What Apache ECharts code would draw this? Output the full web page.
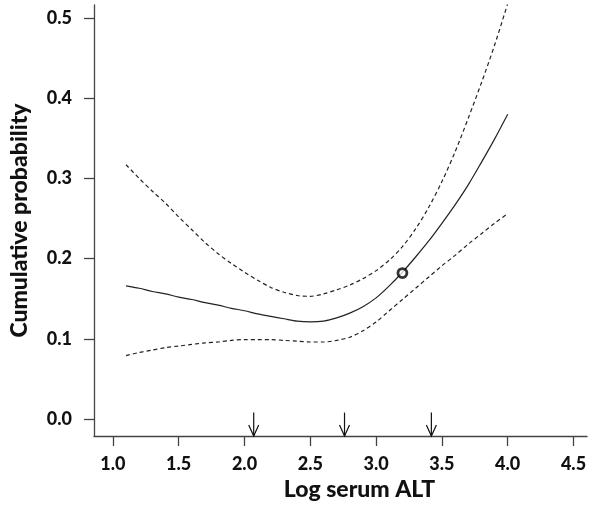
<!DOCTYPE html>
<html>
<head>
<meta charset="utf-8">
<script src="https://cdn.jsdelivr.net/npm/echarts@6.0.0/dist/echarts.min.js"></script>
<style>
  html, body { margin: 0; padding: 0; background: #fff; }
  #main { width: 602px; height: 510px; }
</style>
</head>
<body>
<div id="main"></div>
<script>
// log serum ALT grid for the fitted curve and its confidence band
var altX = [1.1, 1.2, 1.3, 1.4, 1.5, 1.6, 1.7, 1.8, 1.9, 2.0,
            2.1, 2.2, 2.3, 2.4, 2.5, 2.6, 2.7, 2.8, 2.9, 3.0,
            3.1, 3.2, 3.3, 3.4, 3.5, 3.6, 3.7, 3.8, 3.9, 4.0];
var fitY = [0.166, 0.163, 0.159, 0.156, 0.152, 0.149, 0.145, 0.142, 0.138, 0.135,
            0.131, 0.128, 0.125, 0.122, 0.121, 0.122, 0.126, 0.132, 0.140, 0.151,
            0.166, 0.183, 0.202, 0.222, 0.244, 0.267, 0.292, 0.320, 0.349, 0.380];
var upperY = [0.317, 0.300, 0.284, 0.269, 0.252, 0.236, 0.220, 0.206, 0.194, 0.183,
              0.173, 0.164, 0.158, 0.154, 0.153, 0.156, 0.161, 0.167, 0.175, 0.185,
              0.198, 0.215, 0.237, 0.264, 0.296, 0.333, 0.375, 0.419, 0.466, 0.518];
var lowerY = [0.079, 0.083, 0.086, 0.089, 0.091, 0.093, 0.095, 0.096, 0.098, 0.099,
              0.099, 0.099, 0.098, 0.097, 0.096, 0.096, 0.098, 0.102, 0.110, 0.121,
              0.135, 0.149, 0.163, 0.177, 0.191, 0.204, 0.218, 0.231, 0.244, 0.256];
// highlighted point and arrows on the x axis
var pointX = [3.20];
var pointY = [0.182];
var arrowX = [2.07, 2.76, 3.42];
var xTicks = [1.0, 1.5, 2.0, 2.5, 3.0, 3.5, 4.0, 4.5];
var yTicks = [0.0, 0.1, 0.2, 0.3, 0.4, 0.5];

var X_MIN = 0.8565, X_MAX = 4.6025;
var Y_MIN = -0.0212, Y_MAX = 0.5162;
var ARROW_TOP = 0.008;

var FONT = 'Lato';
var INK = '#111';
var AXIS = '#444';

function pairs(xs, ys) {
  return xs.map(function (x, i) { return [x, ys[i]]; });
}

var chart = echarts.init(document.getElementById('main'));

chart.setOption({
  animation: false,
  backgroundColor: '#fff',
  grid: { left: 91, right: 15, top: 5, bottom: 74 },
  xAxis: {
    type: 'value',
    min: X_MIN,
    max: X_MAX,
    name: 'Log serum ALT',
    nameLocation: 'middle',
    nameGap: 39,
    nameTextStyle: {
      fontFamily: FONT, fontWeight: 900, fontSize: 23, color: INK,
      padding: [0, 0, 0, 38]
    },
    axisLine: { onZero: false, lineStyle: { color: AXIS, width: 1.3 } },
    axisTick: { customValues: xTicks, length: 10, lineStyle: { color: AXIS, width: 1.3 } },
    axisLabel: {
      customValues: xTicks,
      margin: 19,
      fontFamily: FONT, fontWeight: 900, fontSize: 18, color: INK,
      formatter: function (v) { return v.toFixed(1); }
    },
    splitLine: { show: false }
  },
  yAxis: {
    type: 'value',
    min: Y_MIN,
    max: Y_MAX,
    name: 'Cumulative probability',
    nameLocation: 'middle',
    nameGap: 63,
    nameTextStyle: { fontFamily: FONT, fontWeight: 900, fontSize: 23, color: INK },
    axisLine: { onZero: false, lineStyle: { color: AXIS, width: 1.3 } },
    axisTick: { customValues: yTicks, length: 10, lineStyle: { color: AXIS, width: 1.3 } },
    axisLabel: {
      customValues: yTicks,
      margin: 22,
      fontFamily: FONT, fontWeight: 900, fontSize: 18, color: INK,
      formatter: function (v) { return v.toFixed(1); }
    },
    splitLine: { show: false }
  },
  series: [
    {
      name: 'upper',
      type: 'line',
      data: pairs(altX, upperY),
      smooth: 0.3,
      showSymbol: false,
      lineStyle: { color: '#222', width: 1.2, type: [4, 3] }
    },
    {
      name: 'fit',
      type: 'line',
      data: pairs(altX, fitY),
      smooth: 0.3,
      showSymbol: false,
      lineStyle: { color: '#222', width: 1.2 }
    },
    {
      name: 'lower',
      type: 'line',
      data: pairs(altX, lowerY),
      smooth: 0.3,
      showSymbol: false,
      lineStyle: { color: '#222', width: 1.2, type: [4, 3] }
    },
    {
      name: 'point',
      type: 'scatter',
      data: pairs(pointX, pointY),
      symbol: 'circle',
      symbolSize: 9,
      itemStyle: { color: '#fff', borderColor: '#000', borderWidth: 2.8 },
      z: 5
    },
    {
      name: 'arrows',
      type: 'custom',
      data: arrowX.map(function (x) { return [x]; }),
      encode: { x: 0 },
      renderItem: function (params, api) {
        var x = api.value(0);
        var top = api.coord([x, ARROW_TOP]);
        var tip = api.coord([x, Y_MIN]);
        return {
          type: 'group',
          children: [
            {
              type: 'line',
              shape: { x1: top[0], y1: top[1], x2: tip[0], y2: tip[1] },
              style: { stroke: INK, lineWidth: 1.2 }
            },
            {
              type: 'polyline',
              shape: { points: [[tip[0] - 5, tip[1] - 11], [tip[0], tip[1]], [tip[0] + 5, tip[1] - 11]] },
              style: { stroke: INK, fill: null, lineWidth: 1.2 }
            }
          ]
        };
      }
    }
  ]
});
</script>
</body>
</html>
